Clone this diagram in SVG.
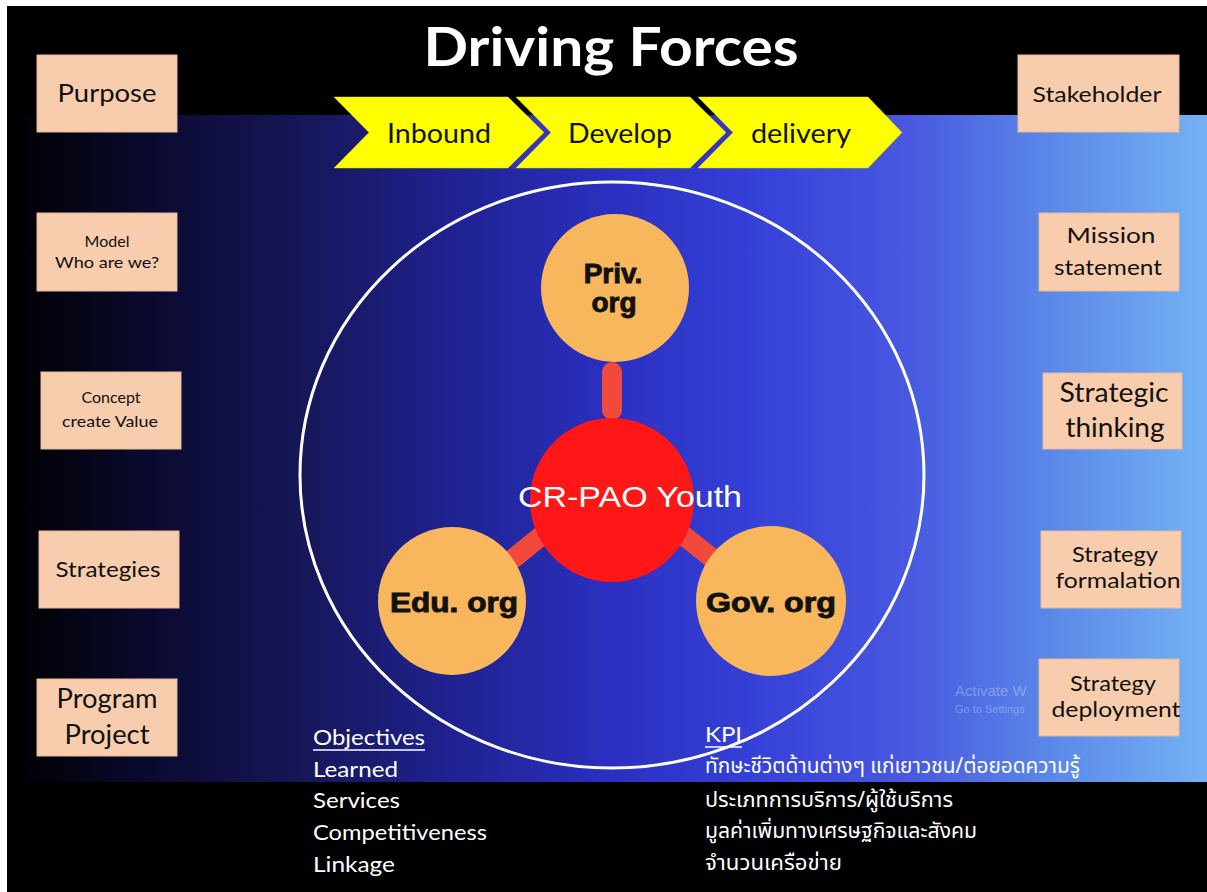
<svg xmlns="http://www.w3.org/2000/svg" width="1207" height="892" viewBox="0 0 1207 892">
  <defs>
    <linearGradient id="band" x1="7" y1="0" x2="1207" y2="0" gradientUnits="userSpaceOnUse">
      <stop offset="0" stop-color="#000000"/>
      <stop offset="0.12" stop-color="#0a0a30"/>
      <stop offset="0.25" stop-color="#17175a"/>
      <stop offset="0.37" stop-color="#1f2290"/>
      <stop offset="0.5" stop-color="#2a2fbf"/>
      <stop offset="0.62" stop-color="#3540d8"/>
      <stop offset="0.75" stop-color="#4858e0"/>
      <stop offset="0.87" stop-color="#5a88e8"/>
      <stop offset="1" stop-color="#74b2f4"/>
    </linearGradient>
    <linearGradient id="shadow" x1="0" y1="97" x2="0" y2="168" gradientUnits="userSpaceOnUse">
      <stop offset="0.24" stop-color="#000000"/>
      <stop offset="0.27" stop-color="#3434c4"/>
      <stop offset="1" stop-color="#3434c4"/>
    </linearGradient>
    <style>
      .box { fill: #f8cdad; stroke: #e9b896; stroke-width: 1; }
      .bt { font-family: Lato, "Liberation Sans", sans-serif; fill: #111111; text-anchor: middle; }
      .chev { fill: #ffff00; stroke: #d8d800; stroke-width: 0.5; }
      .ct { font-family: Lato, "Liberation Sans", sans-serif; font-size: 26px; fill: #111111; text-anchor: middle; }
      .org { fill: #f8b75c; }
      .ot { font-family: "Liberation Sans", Arial, sans-serif; font-weight: bold; font-size: 28px; fill: #111111; stroke: #111111; stroke-width: 0.9; text-anchor: middle; }
      .link { stroke: #f24a3a; stroke-width: 20; stroke-linecap: round; fill: none; }
      .lt { font-family: Lato, "Liberation Sans", sans-serif; font-size: 22px; fill: #ffffff; }
      .th { font-family: "Noto Sans Thai", "Noto Sans", "DejaVu Sans", sans-serif; font-size: 21px; fill: #ffffff; }
    </style>
  </defs>

  <!-- background -->
  <rect x="0" y="0" width="1207" height="892" fill="#000000"/>
  <rect x="7" y="115" width="1200" height="667" fill="url(#band)"/>
  <rect x="0" y="0" width="1207" height="6" fill="#ffffff"/>
  <rect x="0" y="0" width="7" height="892" fill="#ffffff"/>

  <!-- title -->
  <text x="611" y="66" font-family="Lato, 'Liberation Sans', sans-serif" font-weight="bold" font-size="53" fill="#ffffff" text-anchor="middle" textLength="375" lengthAdjust="spacingAndGlyphs">Driving Forces</text>

  <!-- chevrons -->
  <g id="chevrons">
    <polyline points="512,97 547,132.5 512,168" fill="none" stroke="url(#shadow)" stroke-width="6"/>
    <polyline points="694,97 729,132.5 694,168" fill="none" stroke="url(#shadow)" stroke-width="6"/>
    <g id="chev-inbound">
      <polygon class="chev" points="334,97 508,97 544,132.5 508,168 334,168 369,132.5"/>
      <text class="ct" x="439" y="143" textLength="104" lengthAdjust="spacingAndGlyphs">Inbound</text>
    </g>
    <g id="chev-develop">
      <polygon class="chev" points="516,97 690,97 726,132.5 690,168 516,168 551,132.5"/>
      <text class="ct" x="620" y="143" textLength="104" lengthAdjust="spacingAndGlyphs">Develop</text>
    </g>
    <g id="chev-delivery">
      <polygon class="chev" points="698,97 868,97 902,132.5 868,168 698,168 733,132.5"/>
      <text class="ct" x="801" y="143" textLength="100" lengthAdjust="spacingAndGlyphs">delivery</text>
    </g>
  </g>

  <!-- big ellipse -->
  <ellipse cx="612" cy="475" rx="312" ry="293" fill="none" stroke="#ffffff" stroke-width="3"/>

  <!-- watermark -->
  <text x="955" y="696" font-family="'Liberation Sans', sans-serif" font-size="15" fill="#ffffff" fill-opacity="0.3">Activate W</text>
  <text x="955" y="713" font-family="'Liberation Sans', sans-serif" font-size="11" fill="#ffffff" fill-opacity="0.3">Go to Settings</text>

  <!-- connectors -->
  <g id="connectors">
    <line class="link" x1="612" y1="372" x2="612" y2="410"/>
    <line class="link" x1="514" y1="558" x2="541" y2="536"/>
    <line class="link" x1="684" y1="536" x2="712" y2="558"/>
  </g>

  <!-- hub -->
  <g id="hub">
    <circle cx="612" cy="500" r="82" fill="#ff1616"/>
    <text x="630" y="507" font-family="'Liberation Sans', Arial, sans-serif" font-size="29" fill="#ffffff" text-anchor="middle" textLength="224" lengthAdjust="spacingAndGlyphs">CR-PAO Youth</text>
  </g>
  <g id="priv">
    <circle class="org" cx="615" cy="288" r="74"/>
    <text class="ot" x="613" y="283">Priv.</text>
    <text class="ot" x="614" y="312">org</text>
  </g>
  <g id="edu">
    <circle class="org" cx="452" cy="601" r="74"/>
    <text class="ot" x="454" y="612" textLength="128" lengthAdjust="spacingAndGlyphs">Edu. org</text>
  </g>
  <g id="gov">
    <circle class="org" cx="771" cy="601" r="75"/>
    <text class="ot" x="771" y="612" textLength="130" lengthAdjust="spacingAndGlyphs">Gov. org</text>
  </g>

  <!-- left boxes -->
  <g id="purpose">
    <rect class="box" x="37" y="55" width="140" height="77"/>
    <text class="bt" x="107" y="102" font-size="25" textLength="99" lengthAdjust="spacingAndGlyphs">Purpose</text>
  </g>
  <g id="model">
    <rect class="box" x="37" y="213" width="140" height="78"/>
    <text class="bt" x="107" y="247" font-size="16">Model</text>
    <text class="bt" x="107" y="268" font-size="16" textLength="104" lengthAdjust="spacingAndGlyphs">Who are we?</text>
  </g>
  <g id="concept">
    <rect class="box" x="41" y="372" width="140" height="77"/>
    <text class="bt" x="111" y="403" font-size="16">Concept</text>
    <text class="bt" x="110" y="427" font-size="16" textLength="96" lengthAdjust="spacingAndGlyphs">create Value</text>
  </g>
  <g id="strategies">
    <rect class="box" x="39" y="531" width="140" height="77"/>
    <text class="bt" x="108" y="577" font-size="22" textLength="105" lengthAdjust="spacingAndGlyphs">Strategies</text>
  </g>
  <g id="program">
    <rect class="box" x="37" y="679" width="140" height="77"/>
    <text class="bt" x="107" y="708" font-size="26" textLength="101" lengthAdjust="spacingAndGlyphs">Program</text>
    <text class="bt" x="107" y="744" font-size="26" textLength="85" lengthAdjust="spacingAndGlyphs">Project</text>
  </g>

  <!-- right boxes -->
  <g id="stakeholder">
    <rect class="box" x="1018" y="55" width="161" height="77"/>
    <text class="bt" x="1097" y="102" font-size="21" textLength="129" lengthAdjust="spacingAndGlyphs">Stakeholder</text>
  </g>
  <g id="mission">
    <rect class="box" x="1039" y="213" width="140" height="78"/>
    <text class="bt" x="1111" y="243" font-size="21" textLength="89" lengthAdjust="spacingAndGlyphs">Mission</text>
    <text class="bt" x="1108" y="275" font-size="21" textLength="108" lengthAdjust="spacingAndGlyphs">statement</text>
  </g>
  <g id="strategic-thinking">
    <rect class="box" x="1043" y="373" width="139" height="76"/>
    <text class="bt" x="1114" y="402" font-size="26" textLength="109" lengthAdjust="spacingAndGlyphs">Strategic</text>
    <text class="bt" x="1115" y="437" font-size="26" textLength="99" lengthAdjust="spacingAndGlyphs">thinking</text>
  </g>
  <g id="strategy-formalation">
    <rect class="box" x="1041" y="531" width="140" height="77"/>
    <text class="bt" x="1115" y="562" font-size="21" textLength="86" lengthAdjust="spacingAndGlyphs">Strategy</text>
    <text class="bt" x="1118" y="588" font-size="21" textLength="125" lengthAdjust="spacingAndGlyphs">formalation</text>
  </g>
  <g id="strategy-deployment">
    <rect class="box" x="1039" y="659" width="140" height="77"/>
    <text class="bt" x="1113" y="691" font-size="21" textLength="86" lengthAdjust="spacingAndGlyphs">Strategy</text>
    <text class="bt" x="1116" y="717" font-size="21" textLength="129" lengthAdjust="spacingAndGlyphs">deployment</text>
  </g>

  <!-- objectives -->
  <g id="objectives">
    <text class="lt" x="313" y="745" textLength="112" lengthAdjust="spacingAndGlyphs">Objectives</text>
    <line x1="313" y1="750" x2="425" y2="750" stroke="#ffffff" stroke-width="1.5"/>
    <text class="lt" x="313" y="777" textLength="85" lengthAdjust="spacingAndGlyphs">Learned</text>
    <text class="lt" x="313" y="808" textLength="87" lengthAdjust="spacingAndGlyphs">Services</text>
    <text class="lt" x="313" y="840" textLength="174" lengthAdjust="spacingAndGlyphs">Competitiveness</text>
    <text class="lt" x="313" y="872" textLength="82" lengthAdjust="spacingAndGlyphs">Linkage</text>
  </g>

  <!-- KPI -->
  <g id="kpi">
    <text class="lt" x="705" y="742" textLength="37" lengthAdjust="spacingAndGlyphs">KPI</text>
    <line x1="705" y1="747" x2="742" y2="747" stroke="#ffffff" stroke-width="1.5"/>
    <text class="th" x="705" y="773" textLength="375" lengthAdjust="spacingAndGlyphs">ทักษะชีวิตด้านต่างๆ แก่เยาวชน/ต่อยอดความรู้</text>
    <text class="th" x="705" y="807" textLength="248" lengthAdjust="spacingAndGlyphs">ประเภทการบริการ/ผู้ใช้บริการ</text>
    <text class="th" x="705" y="838" textLength="272" lengthAdjust="spacingAndGlyphs">มูลค่าเพิ่มทางเศรษฐกิจและสังคม</text>
    <text class="th" x="705" y="870" textLength="137" lengthAdjust="spacingAndGlyphs">จำนวนเครือข่าย</text>
  </g>
</svg>
